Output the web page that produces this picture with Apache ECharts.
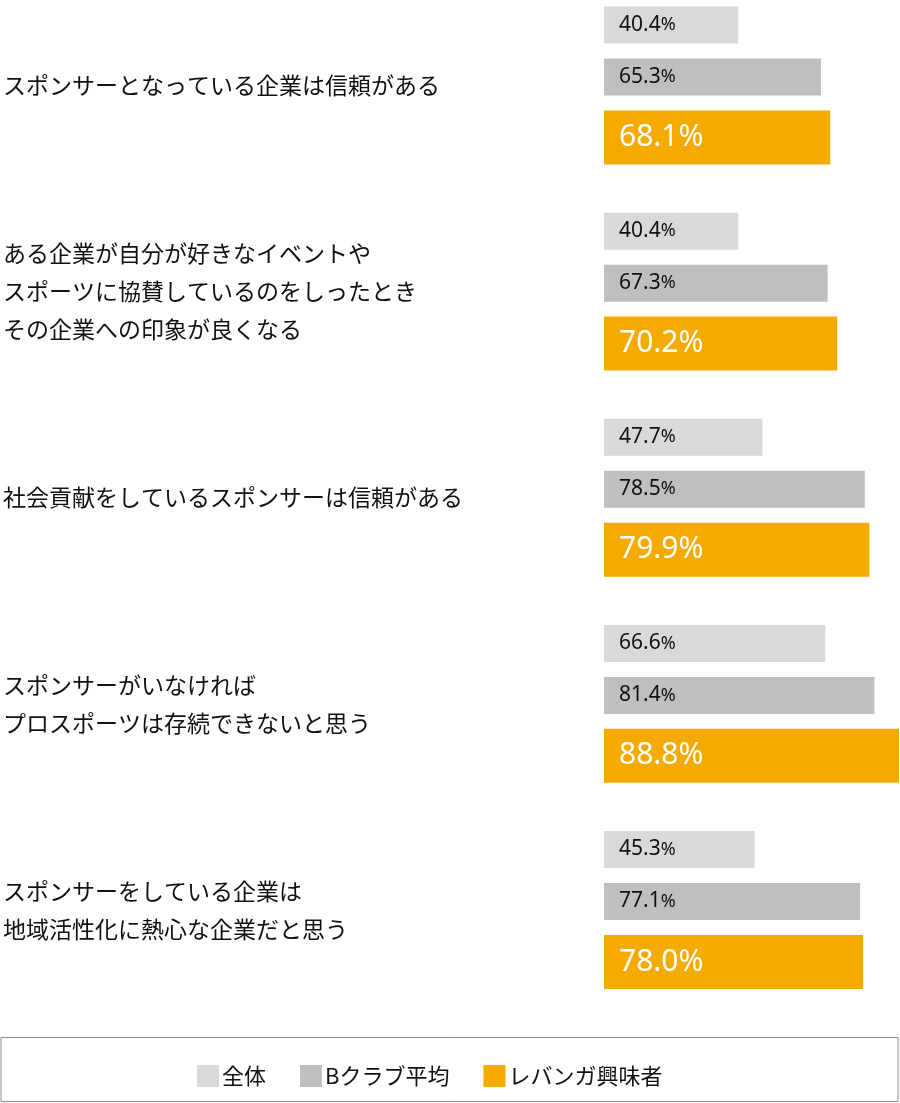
<!DOCTYPE html>
<html>
<head>
<meta charset="utf-8">
<script src="https://cdn.jsdelivr.net/npm/echarts@6/dist/echarts.min.js"></script>
<style>
  html, body { margin: 0; padding: 0; background: #fff; }
  #chart { width: 900px; height: 1103px; }
</style>
</head>
<body>
<div id="chart"></div>
<script>
// categories (top to bottom)
const categories = [
    'スポンサーとなっている企業は信頼がある',
    'ある企業が自分が好きなイベントや\nスポーツに協賛しているのをしったとき\nその企業への印象が良くなる',
    '社会貢献をしているスポンサーは信頼がある',
    'スポンサーがいなければ\nプロスポーツは存続できないと思う',
    'スポンサーをしている企業は\n地域活性化に熱心な企業だと思う'
];
const seriesNames = ['全体', 'Bクラブ平均', 'レバンガ興味者'];
const allValues = [40.4, 40.4, 47.7, 66.6, 45.3];
const clubValues = [65.3, 67.3, 78.5, 81.4, 77.1];
const levangaValues = [68.1, 70.2, 79.9, 88.8, 78.0];

const colors = ['#d9d9d9', '#bfbfbf', '#f5aa00'];
const FONT = '"Noto Sans", "Noto Sans CJK JP", sans-serif';
const JFONT = '"Noto Sans CJK JP", "Noto Sans", sans-serif';

let chart = echarts.init(document.getElementById('chart'));

// small labels: number + smaller percent sign
let smallLabel = {
    show: true,
    position: 'insideLeft',
    distance: 15,
    formatter: function (p) { return '{n|' + p.value.toFixed(1) + '}{p|%}'; },
    rich: {
        n: { fontSize: 21, color: '#111', fontFamily: FONT },
        p: { fontSize: 18, color: '#111', fontFamily: FONT }
    }
};

let option = {
    animation: false,
    backgroundColor: '#fff',
    // first / last category centres sit on the grid edges
    grid: { left: 603, right: 0, top: 85.5, height: 824.5, containLabel: false },
    xAxis: { type: 'value', min: 0, max: 89.1, show: false },
    yAxis: {
        type: 'category',
        inverse: true,
        boundaryGap: false,
        data: categories,
        axisLine: { show: false },
        axisTick: { show: false },
        splitLine: { show: false },
        axisLabel: {
            align: 'left',
            margin: 601,
            fontSize: 23,
            lineHeight: 38,
            color: '#111',
            fontFamily: JFONT
        }
    },
    legend: {
        left: 192,
        top: 1060,
        itemWidth: 22,
        itemHeight: 22,
        itemGap: 34,
        icon: 'rect',
        textStyle: { fontSize: 22, color: '#111', fontFamily: JFONT, padding: [0, 0, 0, -2] },
        data: seriesNames
    },
    graphic: [{
        type: 'rect',
        shape: { x: 1, y: 1037.5, width: 897, height: 64 },
        style: { fill: 'none', stroke: '#8c8c8c', lineWidth: 1 },
        z: -1
    }],
    series: [
        {
            name: seriesNames[0], type: 'bar', data: allValues,
            barWidth: 37, barGap: '40.5%',
            itemStyle: { color: colors[0] },
            label: smallLabel
        },
        {
            name: seriesNames[1], type: 'bar', data: clubValues,
            barWidth: 37, barGap: '40.5%',
            itemStyle: { color: colors[1] },
            label: smallLabel
        },
        {
            name: seriesNames[2], type: 'bar', data: levangaValues,
            barWidth: 54, barGap: '40.5%',
            itemStyle: { color: colors[2] },
            label: {
                show: true,
                position: 'insideLeft',
                distance: 15,
                formatter: function (p) { return p.value.toFixed(1) + '%'; },
                fontSize: 30,
                color: '#fff',
                fontFamily: FONT
            }
        }
    ]
};

chart.setOption(option);
</script>
</body>
</html>
